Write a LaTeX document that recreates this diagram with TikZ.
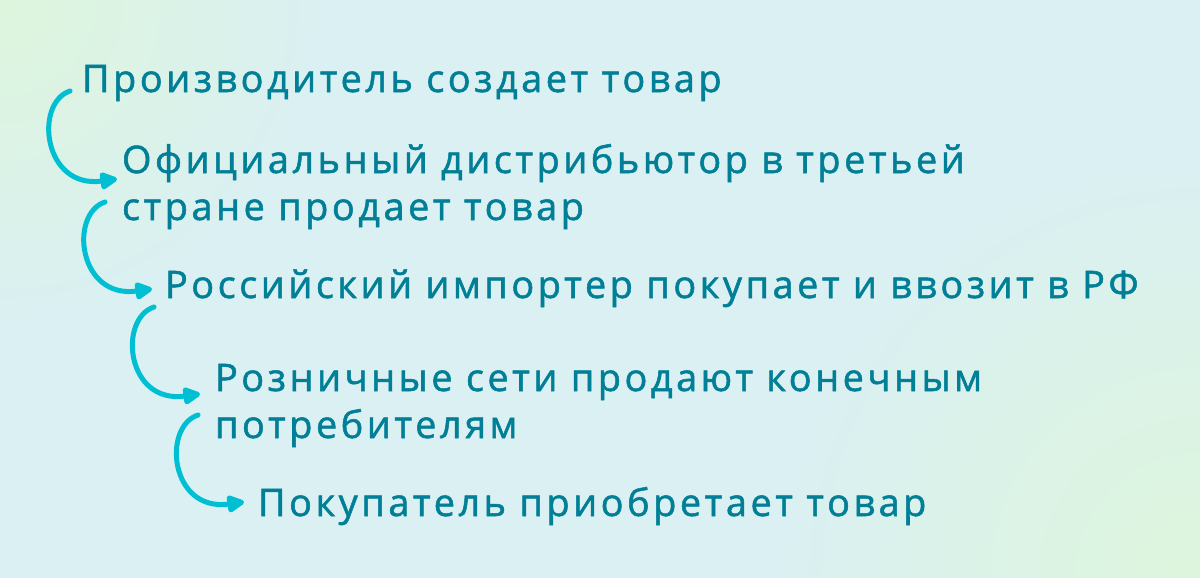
\documentclass[tikz,border=0pt]{standalone}
\usepackage{fontspec}
\setmainfont{Open Sans}[LetterSpace=9.3,FakeBold=1.4]
\usetikzlibrary{arrows.meta}
\definecolor{bgc}{HTML}{DAF0F2}
\definecolor{bgg}{HTML}{DDF5DC}
\definecolor{txt}{HTML}{007F97}
\definecolor{arr}{HTML}{00BFD2}
\begin{document}
\begin{tikzpicture}[x=0.75pt,y=-0.75pt,
  lbl/.style={anchor=base west, inner sep=0pt, outer sep=0pt, text=txt, align=left,
    font=\fontsize{28.4}{35.25}\selectfont},
  flow/.style={draw=arr, line width=3.75pt, line cap=round,
    -{Triangle[length=15pt,width=14pt,round]}}]
\useasboundingbox (0,0) rectangle (1200,578);
\begin{scope}
\clip (0,0) rectangle (1200,578);
\fill[bgc] (0,0) rectangle (1200,578);
\shade[inner color=bgg, outer color=bgc] (0,0) circle (320);
\shade[inner color=bgg, outer color=bgc] (1200,578) circle (420);
\end{scope}

% multi-line nodes: base anchor sits on the last line
\node[lbl] (t1) at (82,92) {Производитель создает товар};
\node[lbl] (t2) at (122,220) {Официальный дистрибьютор в третьей\\стране продает товар};
\node[lbl] (t3) at (165,298) {Российский импортер покупает и ввозит в РФ};
\node[lbl] (t4) at (215,438) {Розничные сети продают конечным\\потребителям};
\node[lbl] (t5) at (258,516) {Покупатель приобретает товар};

\coordinate (s1) at (70,91);   \coordinate (e1) at (117,179);
\coordinate (s2) at (105,202); \coordinate (e2) at (152,289);
\coordinate (s3) at (154,307); \coordinate (e3) at (200,394);
\coordinate (s4) at (198,415); \coordinate (e4) at (244,502);

\draw[flow] (s1) .. controls +(-36,12) and +(-74,10) .. (e1);
\draw[flow] (s2) .. controls +(-36,12) and +(-74,10) .. (e2);
\draw[flow] (s3) .. controls +(-36,12) and +(-74,10) .. (e3);
\draw[flow] (s4) .. controls +(-36,12) and +(-74,10) .. (e4);
\end{tikzpicture}
\end{document}
